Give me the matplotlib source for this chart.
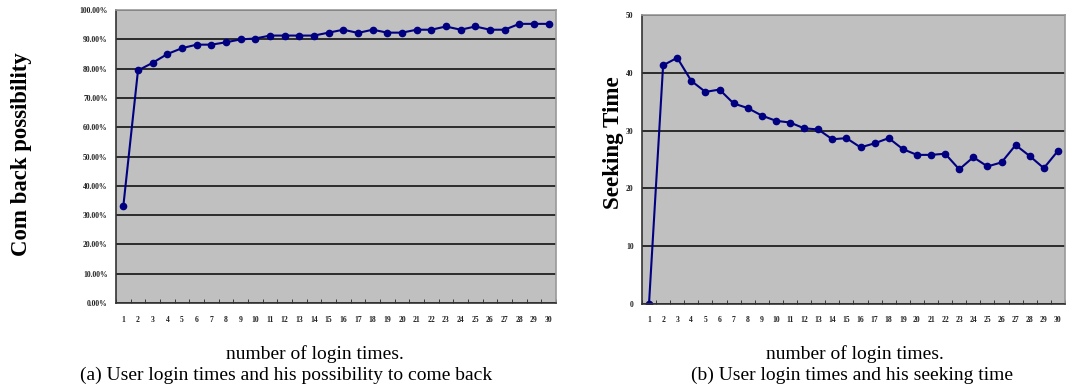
import matplotlib
matplotlib.use("Agg")
import matplotlib.pyplot as plt
from matplotlib.ticker import FixedLocator, PercentFormatter

# data
login_times = list(range(1, 31))

come_back = [33.1, 79.4, 82.0, 85.0, 87.0, 88.2, 88.2, 89.0, 90.0, 90.3,
             91.3, 91.3, 91.3, 91.3, 92.3, 93.3, 92.2, 93.3, 92.3, 92.3,
             93.3, 93.3, 94.4, 93.3, 94.4, 93.3, 93.3, 95.3, 95.3, 95.3]

seeking = [0.0, 41.3, 42.6, 38.6, 36.7, 37.1, 34.7, 33.9, 32.6, 31.7,
           31.4, 30.4, 30.2, 28.5, 28.7, 27.1, 27.8, 28.7, 26.8, 25.8,
           25.8, 26.0, 23.3, 25.4, 23.8, 24.5, 27.5, 25.6, 23.5, 26.5]

left_yticks = [0, 10, 20, 30, 40, 50, 60, 70, 80, 90, 100]
right_yticks = [0, 10, 20, 30, 40, 50]

SERIF = "Liberation Serif"
LINE = "#000080"
BG = "#c0c0c0"


def style_axes(ax, yticks):
    """grey excel look: dark gridlines, ticks between categories"""
    ax.set_facecolor(BG)
    ax.set_xlim(0.5, 30.5)
    ax.set_ylim(yticks[0], yticks[-1])
    ax.set_yticks(yticks)
    ax.yaxis.grid(True, color="#202020", linewidth=1.3)
    ax.set_axisbelow(True)
    ax.set_xticks(login_times)
    ax.xaxis.set_minor_locator(FixedLocator([i + 0.5 for i in range(0, 31)]))
    ax.tick_params(axis="x", which="major", length=0, pad=9,
                   labelsize=5.5, colors="#222222")
    ax.tick_params(axis="x", which="minor", length=3, direction="in",
                   color="#222222")
    ax.tick_params(axis="y", length=0, labelsize=5.5, pad=6, colors="#222222")
    ax.spines["left"].set_color("#333333")
    ax.spines["bottom"].set_color("#333333")
    ax.spines["top"].set_color("#999999")
    ax.spines["right"].set_color("#999999")
    for s in ax.spines.values():
        s.set_linewidth(1.2)


def bold_ticks(ax):
    for lab in ax.get_xticklabels() + ax.get_yticklabels():
        lab.set_fontweight("bold")
        lab.set_family(SERIF)


fig = plt.figure(figsize=(10.8, 3.88), dpi=100)

# left chart (a)
ax1 = fig.add_axes([0.1074, 0.219, 0.4074, 0.755])
ax1.plot(login_times, come_back, color=LINE, linewidth=1.5,
         marker="o", markersize=4.5)
style_axes(ax1, left_yticks)
ax1.yaxis.set_major_formatter(PercentFormatter(decimals=2))
bold_ticks(ax1)

# right chart (b)
ax2 = fig.add_axes([0.5944, 0.2165, 0.3917, 0.7448])
ax2.plot(login_times, seeking, color=LINE, linewidth=1.5,
         marker="o", markersize=4.5)
style_axes(ax2, right_yticks)
bold_ticks(ax2)

# axis titles
fig.text(0.020, 0.602, "Com back possibility", rotation=90, ha="center",
         va="center", family=SERIF, fontsize=16.4, fontweight="bold")
fig.text(0.5676, 0.633, "Seeking Time", rotation=90, ha="center",
         va="center", family=SERIF, fontsize=16.6, fontweight="bold")

fig.text(0.2917, 0.088, "number of login times.", ha="center", va="center",
         family=SERIF, fontsize=14)
fig.text(0.265, 0.033, "(a) User login times and his possibility to come back",
         ha="center", va="center", family=SERIF, fontsize=14)
fig.text(0.7917, 0.088, "number of login times.", ha="center", va="center",
         family=SERIF, fontsize=14)
fig.text(0.789, 0.033, "(b) User login times and his seeking time",
         ha="center", va="center", family=SERIF, fontsize=14)

fig.savefig("out.png", dpi=100)
